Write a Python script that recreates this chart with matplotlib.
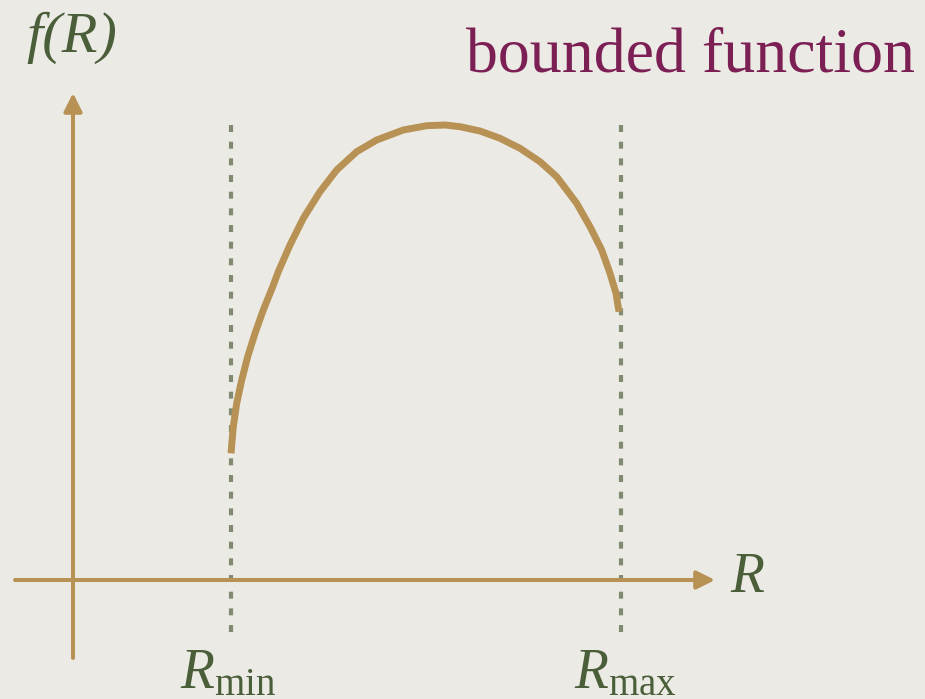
import numpy as np
import matplotlib.pyplot as plt

plt.rcParams['mathtext.fontset'] = 'custom'
plt.rcParams['mathtext.rm'] = 'Liberation Serif'
plt.rcParams['mathtext.it'] = 'Liberation Serif:italic'

# curve f(R) (arbitrary units, origin at the axes cross)
R = [158.0, 160.3, 163.7, 168.7, 174.7, 182.0, 190.3, 199.7, 205.3, 217.0,
     230.3, 247.0, 263.7, 283.7, 303.7, 330.3, 353.7, 372.0, 387.0, 407.0,
     427.0, 447.0, 467.0, 483.7, 503.7, 517.0, 528.7, 537.0, 543.0, 546.0]
f = [126.7, 153.3, 176.7, 200.0, 223.3, 246.7, 270.0, 293.3, 308.3, 335.0,
     361.7, 388.3, 410.0, 428.3, 440.0, 450.0, 454.3, 455.0, 453.3, 449.0,
     441.7, 431.7, 418.3, 403.3, 376.7, 353.3, 330.0, 306.7, 286.7, 268.3]
r_min = 158
r_max = 548

bg = '#EBEAE4'
tan = '#B89154'
dash_col = '#7F8A70'
green = '#4A5E3A'
purple = '#7B1F55'

fig = plt.figure(figsize=(9.25, 6.99), dpi=100, facecolor=bg)
ax = fig.add_axes([0, 0, 1, 1])
ax.set_facecolor(bg)
ax.set_xlim(-73, 852)
ax.set_ylim(-119, 580)
ax.axis('off')

# axes with arrows
arrow = dict(arrowstyle='-|>,head_length=11,head_width=5.5', color=tan,
             lw=2.9, shrinkA=0, shrinkB=0, mutation_scale=1)
ax.annotate('', xy=(642, 0), xytext=(-58, 0), arrowprops=arrow)
ax.annotate('', xy=(0, 487), xytext=(0, -78), arrowprops=arrow)

# bounds
for r in [r_min, r_max]:
    ax.plot([r, r], [-52, 462], color=dash_col, lw=3, linestyle=(0, (1.67, 2.33)))

ax.plot(R, f, color=tan, lw=5, solid_capstyle='butt', solid_joinstyle='round')

ax.text(-47, 528, 'f(R)', fontsize=42, family='Liberation Serif',
        style='italic', color=green, ha='left', va='baseline')
ax.text(842, 508, 'bounded function', fontsize=46, family='Liberation Serif',
        color=purple, ha='right', va='baseline')
ax.text(657, -12, 'R', fontsize=40, family='Liberation Serif',
        style='italic', color=green, ha='left', va='baseline')
ax.text(r_min - 3, -108, r'$R_{\rm min}$', fontsize=40, color=green,
        ha='center', va='baseline')
ax.text(r_max + 4, -108, r'$R_{\rm max}$', fontsize=40, color=green,
        ha='center', va='baseline')

fig.savefig('out.png', dpi=100, facecolor=bg)
